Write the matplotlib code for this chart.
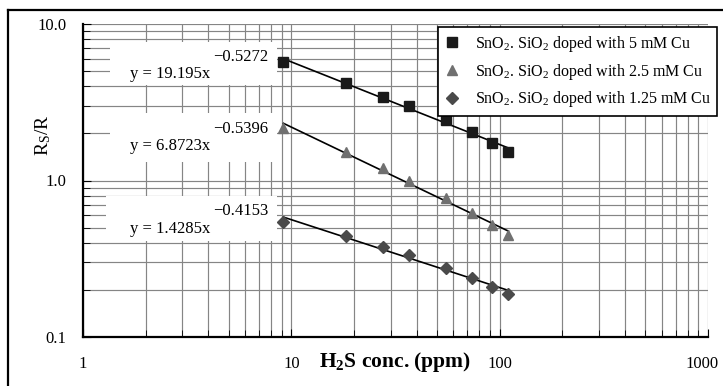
import numpy as np
import matplotlib.pyplot as plt
import matplotlib.transforms as mtransforms
from matplotlib.patches import Rectangle
from matplotlib.lines import Line2D

plt.rcParams['font.family'] = ['Liberation Serif', 'DejaVu Serif']
plt.rcParams['mathtext.fontset'] = 'custom'
plt.rcParams['mathtext.rm'] = 'Liberation Serif'
plt.rcParams['mathtext.bf'] = 'Liberation Serif:bold'
plt.rcParams['mathtext.default'] = 'regular'

# H2S concentration (ppm)
conc = [9.17, 18.3, 27.5, 36.7, 55.0, 73.3, 91.7, 110.0]

# Rs/R response for each Cu doping level
cu_5 = [5.69, 4.22, 3.43, 2.99, 2.44, 2.03, 1.74, 1.52]
cu_25 = [2.16, 1.53, 1.20, 1.00, 0.77, 0.617, 0.52, 0.449]
cu_125 = [0.545, 0.442, 0.378, 0.334, 0.277, 0.239, 0.21, 0.187]

# trend line equations as printed on the chart  y = a * x^b
fit_a = ["19.195", "6.8723", "1.4285"]
fit_b = ["0.5272", "0.5396", "0.4153"]

labels = ["SnO$_2$. SiO$_2$ doped with 5 mM Cu",
          "SnO$_2$. SiO$_2$ doped with 2.5 mM Cu",
          "SnO$_2$. SiO$_2$ doped with 1.25 mM Cu"]

fig = plt.figure(figsize=(7.23, 3.86), dpi=100)
ax = fig.add_axes([83 / 723, 49 / 386, 625 / 723, 313 / 386])

# outer frame (only left and top visible)
fig.add_artist(Line2D([8 / 723, 8 / 723], [0, 376 / 386], transform=fig.transFigure,
                      color='black', lw=1.6))
fig.add_artist(Line2D([8 / 723, 1], [376 / 386, 376 / 386], transform=fig.transFigure,
                      color='black', lw=1.6))

ax.set_xscale('log')
ax.set_yscale('log')
ax.set_xlim(1, 1000)
ax.set_ylim(0.1, 10)
ax.set_axisbelow(True)
ax.grid(True, which='both', color='#858585', lw=0.85)

x = np.array(conc)
series = [cu_5, cu_25, cu_125]
markers = ['s', '^', 'D']
colors = ['#1a1a1a', '#707070', '#4a4a4a']
sizes = [7, 7.5, 6.5]
for i in range(3):
    # power-law trend line fitted to the points (straight line in log-log)
    k, c = np.polyfit(np.log10(x), np.log10(series[i]), 1)
    ax.plot(x, 10 ** (c + k * np.log10(x)), color='black', lw=1.2, zorder=3)
    ax.plot(x, series[i], ls='none', marker=markers[i], color=colors[i],
            ms=sizes[i], zorder=4, label=labels[i])

# white boxes behind equation labels
boxes = [(0.043, 0.805, 0.267, 0.1375),
         (0.043, 0.559, 0.267, 0.157),
         (0.036, 0.307, 0.274, 0.143)]
for bx, by, bw, bh in boxes:
    ax.add_patch(Rectangle((bx, by), bw, bh, transform=ax.transAxes,
                           facecolor='white', edgecolor='none', zorder=2))

eq_main = [(0.203, 0.840), (0.203, 0.610), (0.203, 0.344)]
eq_exp = [(0.296, 0.8946), (0.296, 0.6645), (0.296, 0.4035)]
for i in range(3):
    ax.text(eq_main[i][0], eq_main[i][1], "y = " + fit_a[i] + "x",
            transform=ax.transAxes, ha='right', va='center', fontsize=12, zorder=5)
    ax.text(eq_exp[i][0], eq_exp[i][1], "\u2212" + fit_b[i],
            transform=ax.transAxes, ha='right', va='center', fontsize=12, zorder=5)

ax.set_xticks([1, 10, 100, 1000])
ax.set_xticklabels(["1", "10", "100", "1000"])
ax.set_yticks([0.1, 1, 10])
ax.set_yticklabels(["0.1", "1.0", "10.0"])
ax.tick_params(axis='both', which='major', labelsize=12, direction='in', length=6, color='black')
ax.tick_params(axis='x', which='major', pad=14)
ax.tick_params(axis='y', which='major', pad=12)
ax.tick_params(axis='both', which='minor', direction='in', length=5, color='black')
ax.xaxis.set_minor_formatter(plt.NullFormatter())
ax.yaxis.set_minor_formatter(plt.NullFormatter())

# keep the last x label inside the picture
last = ax.get_xticklabels()[-1]
last.set_horizontalalignment('right')
last.set_transform(last.get_transform() +
                   mtransforms.ScaledTranslation(11 / 100, 0, fig.dpi_scale_trans))

for s in ['top', 'right']:
    ax.spines[s].set_visible(False)
for s in ['left', 'bottom']:
    ax.spines[s].set_linewidth(1.6)

ax.set_xlabel("H$_2$S conc. (ppm)", fontsize=15.5, fontweight='bold')
ax.xaxis.set_label_coords(0.5, -0.08)
ax.xaxis.label.set_va('center')
ax.set_ylabel("R$_S$/R", fontsize=14)
ax.yaxis.set_label_coords(-0.064, 0.645)
ax.yaxis.label.set_va('center')

leg = ax.legend(loc='upper left', bbox_to_anchor=(0.568, 0.99), borderaxespad=0,
                fontsize=11.5, frameon=True, fancybox=False, framealpha=1,
                edgecolor='black', handlelength=1.0, handletextpad=0.9,
                labelspacing=0.5, borderpad=0.4)
leg.get_frame().set_linewidth(1.2)
leg.set_zorder(6)

plt.savefig("out.png", dpi=100)
